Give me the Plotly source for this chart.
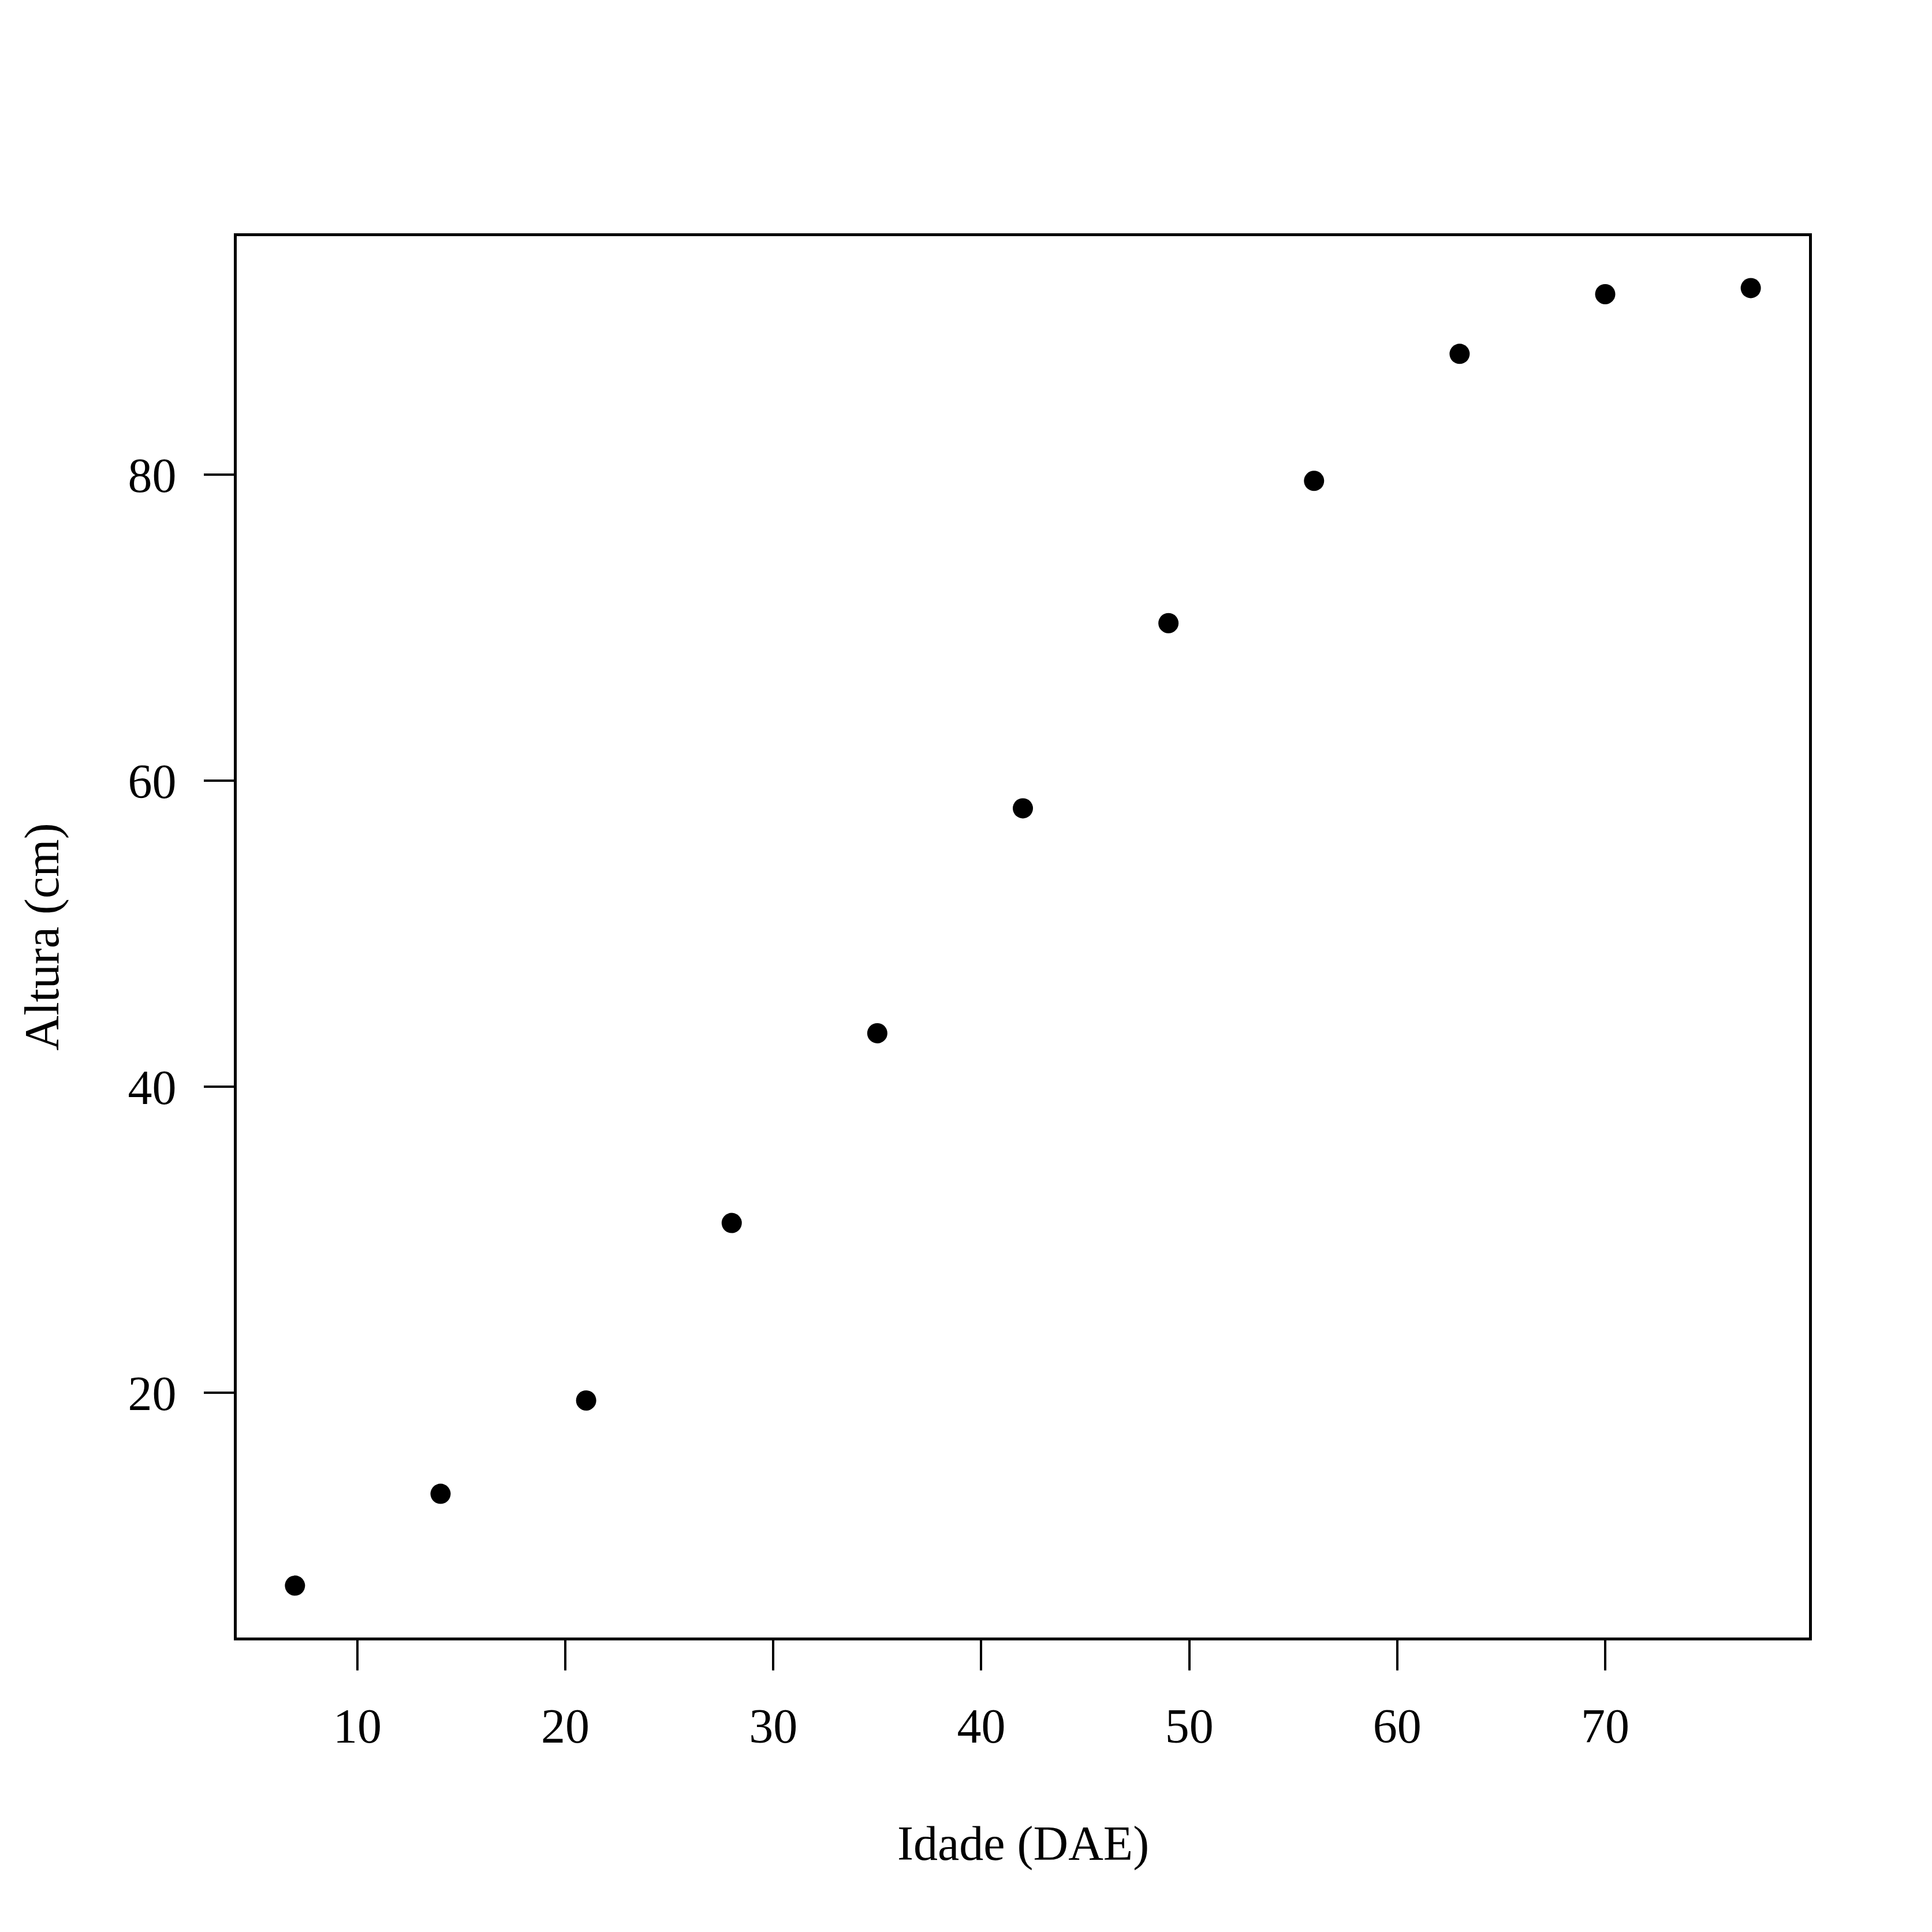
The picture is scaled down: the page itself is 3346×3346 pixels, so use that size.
import plotly.graph_objects as go

idade = [7, 14, 21, 28, 35, 42, 49, 56, 63, 70, 77]
altura = [7.4, 13.4, 19.5, 31.1, 43.5, 58.2, 70.3, 79.6, 87.9, 91.8, 92.2]
x_ticks = [10, 20, 30, 40, 50, 60, 70]
y_ticks = [20, 40, 60, 80]
x_label = "Idade (DAE)"
y_label = "Altura (cm)"

def rrange(v):
    lo, hi = min(v), max(v)
    d = (hi - lo) * 0.04
    return [lo - d, hi + d]

W = H = 3346
L, R, T, B = 402, 221, 401, 518
FONT = "Liberation Serif, Times New Roman, serif"
FS = 84

fig = go.Figure(go.Scatter(
    x=idade, y=altura, mode="markers",
    marker=dict(symbol="circle", size=35, color="black", line=dict(width=0)),
))

axis_common = dict(
    showgrid=False, zeroline=False, showline=True, mirror=True,
    linecolor="black", linewidth=4.5, ticks="outside", ticklen=52,
    tickwidth=4, tickcolor="black",
    tickfont=dict(family=FONT, size=FS, color="black"),
)
fig.update_xaxes(range=rrange(idade), tickvals=x_ticks, ticklabelstandoff=24, **axis_common)
fig.update_yaxes(range=rrange(altura), tickvals=y_ticks, ticklabelstandoff=31, **axis_common)

fig.add_annotation(text=x_label, xref="paper", yref="paper", x=0.5, y=0,
                   xanchor="center", yanchor="middle", yshift=-357, showarrow=False,
                   font=dict(family=FONT, size=FS, color="black"))
fig.add_annotation(text=y_label, xref="paper", yref="paper", x=0, y=0.5,
                   xanchor="center", yanchor="middle", xshift=-338, textangle=-90,
                   showarrow=False, font=dict(family=FONT, size=FS, color="black"))

fig.update_layout(
    width=W, height=H, margin=dict(l=L, r=R, t=T, b=B, pad=0),
    paper_bgcolor="white", plot_bgcolor="white", showlegend=False,
)
fig.write_html("out.html")
